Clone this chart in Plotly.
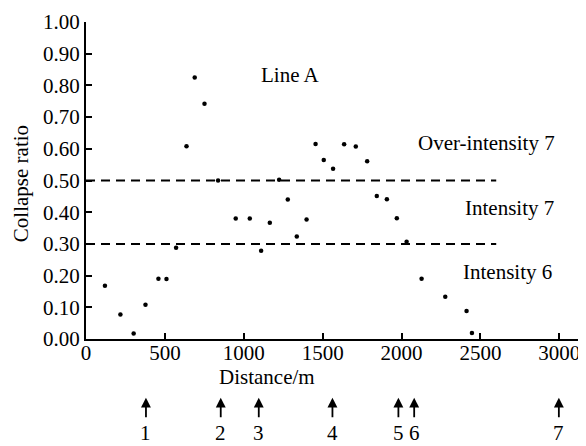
import plotly.graph_objects as go

# Data points (distance in m, collapse ratio)
distance = [120, 218, 302, 377, 459, 510, 571, 637, 689, 751, 837, 949, 1038, 1110,
            1165, 1224, 1279, 1336, 1398, 1455, 1507, 1566, 1636, 1710, 1782, 1843,
            1907, 1970, 2032, 2127, 2277, 2412, 2446]
ratio = [0.168, 0.077, 0.017, 0.108, 0.190, 0.189, 0.288, 0.608, 0.825, 0.742, 0.500,
         0.380, 0.380, 0.278, 0.367, 0.502, 0.440, 0.323, 0.377, 0.615, 0.565, 0.537,
         0.614, 0.607, 0.561, 0.451, 0.441, 0.381, 0.307, 0.190, 0.133, 0.088, 0.019]

thresholds = [0.30, 0.50]
threshold_end = 2600

arrow_pos = [380, 854, 1095, 1562, 1980, 2080, 2997]
arrow_labels = ["1", "2", "3", "4", "5", "6", "7"]

region_labels = ["Line A", "Over-intensity 7", "Intensity 7", "Intensity 6"]
region_x = [1296, 2539, 2681, 2673]
region_y = [0.832, 0.618, 0.413, 0.210]

x_ticks = [0, 500, 1000, 1500, 2000, 2500, 3000]
y_ticks = [round(0.1 * i, 2) for i in range(11)]

FONT = "Liberation Serif, Times New Roman, serif"
FS = 21

fig = go.Figure()
fig.add_trace(go.Scatter(x=distance, y=ratio, mode="markers",
                         marker=dict(color="black", size=4.5), showlegend=False,
                         cliponaxis=False))

for t in thresholds:
    fig.add_shape(type="line", xref="x", yref="y", x0=0, x1=threshold_end, y0=t, y1=t,
                  line=dict(color="black", width=2, dash="9px,6px"))

annotations = []
for txt, xx, yy in zip(region_labels, region_x, region_y):
    annotations.append(dict(x=xx, y=yy, xref="x", yref="y", text=txt, showarrow=False,
                            font=dict(family=FONT, size=FS, color="black")))

for xp, lab in zip(arrow_pos, arrow_labels):
    annotations.append(dict(x=xp, y=-0.185, xref="x", yref="paper", text=" ",
                            showarrow=True, ax=0, ay=22, axref="pixel", ayref="pixel",
                            arrowhead=2, arrowsize=1.1, arrowwidth=1.8, arrowcolor="black",
                            startstandoff=0, standoff=0,
                            font=dict(family=FONT, size=2)))
    annotations.append(dict(x=xp, y=-0.298, xref="x", yref="paper", text=lab,
                            showarrow=False, yanchor="middle",
                            font=dict(family=FONT, size=FS, color="black")))

annotations.append(dict(x=-0.131, y=0.49, xref="paper", yref="paper", text="Collapse ratio",
                        textangle=-90, showarrow=False, xanchor="center", yanchor="middle",
                        font=dict(family=FONT, size=FS, color="black")))
annotations.append(dict(x=1150, y=-0.119, xref="x", yref="paper", text="Distance/m",
                        showarrow=False, yanchor="middle",
                        font=dict(family=FONT, size=FS, color="black")))

fig.update_layout(
    width=578, height=438,
    margin=dict(l=78, r=0, t=14, b=107),
    paper_bgcolor="white", plot_bgcolor="white",
    font=dict(family=FONT, size=FS, color="black"),
    annotations=annotations,
    xaxis=dict(range=[0, 3169], tickvals=x_ticks, ticktext=[str(v) for v in x_ticks],
               ticks="inside", ticklen=6, tickwidth=1.5, tickcolor="black",
               showline=True, linecolor="black", linewidth=2, showgrid=False,
               zeroline=False, tickfont=dict(family=FONT, size=FS), automargin=False,
               ticklabelstandoff=-6),
    yaxis=dict(range=[0, 1], tickvals=y_ticks, ticktext=[f"{v:.2f}" for v in y_ticks],
               ticks="inside", ticklen=6, tickwidth=1.5, tickcolor="black",
               showline=True, linecolor="black", linewidth=2, showgrid=False,
               zeroline=False, tickfont=dict(family=FONT, size=FS), automargin=False),
)

fig.write_html("out.html")
